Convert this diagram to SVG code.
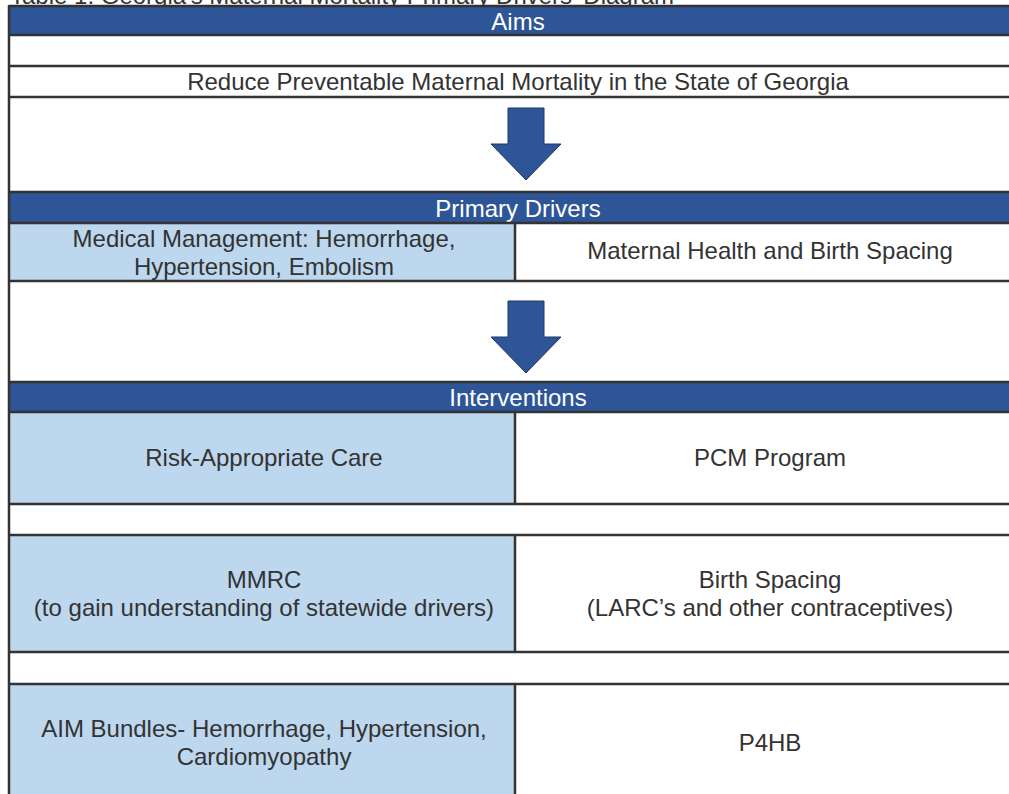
<svg xmlns="http://www.w3.org/2000/svg" width="1009" height="794" viewBox="0 0 1009 794">
<style>
text{font-family:"Liberation Sans",Arial,sans-serif;font-size:24px;fill:#333;text-anchor:middle}
.hdr{fill:#2E5597}
.htxt{fill:#fff}
.lb{fill:#BDD7EE}
.ln{stroke:#333;stroke-width:2.5;fill:none}
.arr{fill:#2E5597;stroke:#1F3864;stroke-width:1}
.title{text-anchor:start;font-size:24px;fill:#333}
</style>
<rect x="0" y="0" width="1009" height="794" fill="#fff"/>
<text class="title" x="10" y="4">Table 1: Georgia's Maternal Mortality Primary Drivers' Diagram</text>

<g id="aims-header"><rect class="hdr" x="9" y="6" width="1000" height="29"/><text class="htxt" x="518" y="30">Aims</text></g>
<g id="aim"><text x="518" y="90">Reduce Preventable Maternal Mortality in the State of Georgia</text></g>

<g id="pd-header"><rect class="hdr" x="9" y="192" width="1000" height="31"/><text class="htxt" x="518" y="217">Primary Drivers</text></g>
<g id="pd-medical"><rect class="lb" x="9" y="223" width="506" height="58"/><text x="264" y="247">Medical Management: Hemorrhage,</text><text x="264" y="275">Hypertension, Embolism</text></g>
<g id="pd-maternal"><text x="770" y="259">Maternal Health and Birth Spacing</text></g>

<g id="int-header"><rect class="hdr" x="9" y="382" width="1000" height="30"/><text class="htxt" x="518" y="406">Interventions</text></g>
<g id="int-risk"><rect class="lb" x="9" y="412" width="506" height="92"/><text x="264" y="466">Risk-Appropriate Care</text></g>
<g id="int-pcm"><text x="770" y="466">PCM Program</text></g>
<g id="int-mmrc"><rect class="lb" x="9" y="535" width="506" height="117"/><text x="264" y="588">MMRC</text><text x="264" y="616">(to gain understanding of statewide drivers)</text></g>
<g id="int-birth"><text x="770" y="588">Birth Spacing</text><text x="770" y="616">(LARC’s and other contraceptives)</text></g>
<g id="int-aim"><rect class="lb" x="9" y="683" width="506" height="111"/><text x="264" y="737">AIM Bundles- Hemorrhage, Hypertension,</text><text x="264" y="765">Cardiomyopathy</text></g>
<g id="int-p4hb"><text x="770" y="751">P4HB</text></g>

<g id="connectors">
<polygon class="arr" points="508,108 544,108 544,144 561,144 526,180 491,144 508,144"/>
<polygon class="arr" points="508,301 544,301 544,337 561,337 526,373 491,337 508,337"/>
</g>

<g id="grid">
<path class="ln" d="M9,6 H1009 M9,35 H1009 M9,66 H1009 M9,97 H1009 M9,192 H1009 M9,223 H1009 M9,281 H1009 M9,382 H1009 M9,412 H1009 M9,504 H1009 M9,535 H1009 M9,652 H1009 M9,684 H1009"/>
<path class="ln" d="M9,5 V794 M515,223 V281 M515,412 V504 M515,535 V652 M515,684 V794"/>
</g>
</svg>
